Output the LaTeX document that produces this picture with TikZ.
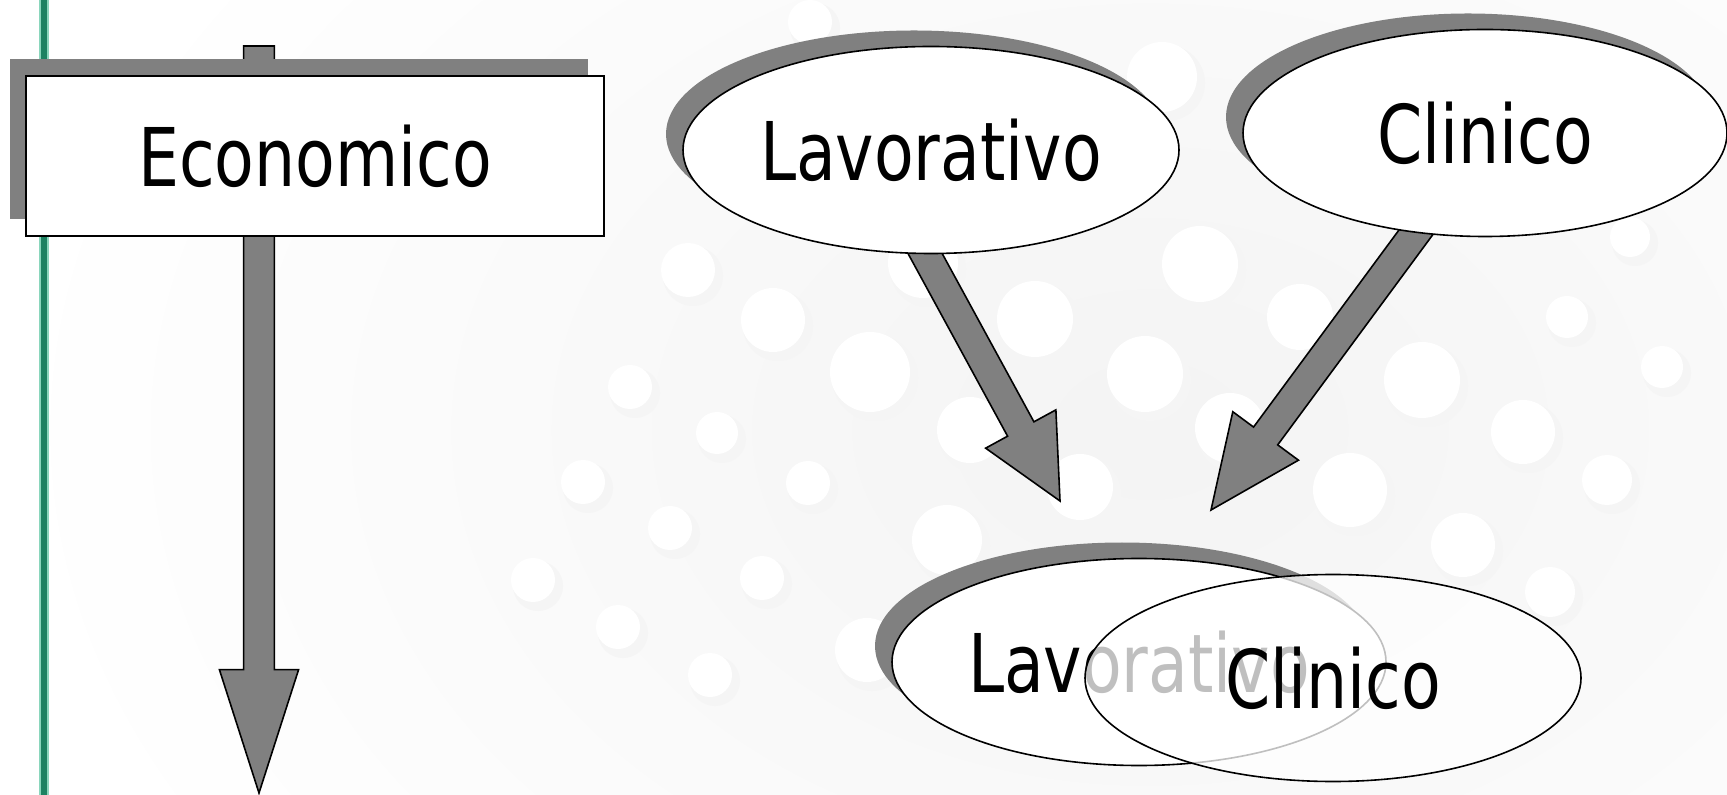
\documentclass[tikz,border=0pt]{standalone}
\usepackage{fontspec}
\setmainfont{DejaVu Sans Condensed}[FakeStretch=0.89]
\usetikzlibrary{shapes.geometric,shadows,calc}
\definecolor{shadowgray}{HTML}{808080}
\definecolor{bardark}{HTML}{1D8262}
\definecolor{barlight}{HTML}{8AD6BC}
\newcommand\diagfont{\fontsize{40.5}{48}\selectfont}
\newcommand\blockarrow[5]{%
  \coordinate (#1h) at ($(#2)!#5!(#1)$);
  \draw[blockarr] ($(#1)!#3!90:(#2)$) -- ($(#1h)!#3!-90:(#1)$) -- ($(#1h)!#4!-90:(#1)$) -- (#2)
    -- ($(#1h)!#4!90:(#1)$) -- ($(#1h)!#3!90:(#1)$) -- ($(#1)!#3!-90:(#2)$) -- cycle;}
\pgfdeclarelayer{bg}
\pgfdeclarelayer{arrows}
\pgfsetlayers{bg,arrows,main}
\tikzset{
  ebox/.style={rectangle, draw=black, line width=0.8pt, fill=white, inner sep=0pt,
    minimum width=289pt, minimum height=80pt, font=\diagfont,
    general shadow={fill=shadowgray, shadow xshift=-8pt, shadow yshift=8.5pt}},
  oval/.style={ellipse, draw=black, line width=0.8pt, fill=white, inner sep=0pt,
    minimum width=248pt, minimum height=103.5pt, font=\diagfont},
  ovalshadow/.style={general shadow={fill=shadowgray, shadow xshift=-8.5pt, shadow yshift=8pt}},
  blockarr/.style={fill=shadowgray, draw=black, line width=0.8pt, line join=miter},
  bubble/.style={fill=white},
  bubbleshade/.style={fill=gray!8},
}
\begin{document}
\begin{tikzpicture}[x=0.5pt,y=-0.5pt]
\useasboundingbox (0,0) rectangle (1727,795);
% background texture
\begin{pgfonlayer}{bg}
  \fill[white] (0,0) rectangle (1727,795);
  \begin{scope}
    \clip (0,0) rectangle (1727,795);
    \shade[inner color=gray!9, outer color=white] (1150,430) ellipse [x radius=1150, y radius=820];
    \foreach \x/\y/\r in {688/270/27, 773/320/32, 870/372/40, 630/387/22, 717/433/21,
      583/482/22, 808/483/22, 670/528/22, 533/580/22, 762/578/22, 618/627/22, 710/675/22,
      867/650/32, 947/540/35, 1035/319/38, 1145/374/38, 1200/264/38, 1300/317/33,
      970/430/33, 1080/487/33, 1230/428/35, 1350/490/37, 1422/380/38, 1523/432/32,
      1607/480/25, 1463/545/32, 1550/592/25, 1662/367/21, 1567/317/21, 1630/237/20,
      810/22/22, 1162/77/35, 923/263/35}
    {
      \fill[bubbleshade] (\x+5,\y+6) circle (\r+3);
      \fill[bubble] (\x,\y) circle (\r);
    }
  \end{scope}
  \draw[barlight, line width=5pt] (44,0) -- (44,795);
  \draw[bardark, line width=3pt] (44,0) -- (44,795);
\end{pgfonlayer}

% nodes
\node[ebox] (eco) at (315,156) {Economico};
\node[oval, ovalshadow] (lavT) at (931,150) {Lavorativo};
\node[oval, ovalshadow, minimum width=242pt] (cliT) at (1485,133) {Clinico};
\node[oval, ovalshadow, minimum width=247pt] (lavB) at (1139,662) {Lavorativo};
\node[oval, fill opacity=0.75, text opacity=1] (cliB) at (1333,678) {Clinico};

% connectors (block arrows), under the nodes
\coordinate (ecoTop) at (259,46);
\coordinate (ecoTip) at (259,793);
\coordinate (lavStart) at ($(lavT.center)+(-28,63)$);
\coordinate (lavTip) at (1060,501);
\coordinate (cliStart) at ($(cliT.center)+(-46,68)$);
\coordinate (cliTip) at (1211,510);
\begin{pgfonlayer}{arrows}
  \blockarrow{ecoTop}{ecoTip}{7.7pt}{19.8pt}{61.7pt}
  \blockarrow{lavStart}{lavTip}{7.5pt}{20pt}{41pt}
  \blockarrow{cliStart}{cliTip}{7.5pt}{20.4pt}{46pt}
\end{pgfonlayer}
\end{tikzpicture}
\end{document}
